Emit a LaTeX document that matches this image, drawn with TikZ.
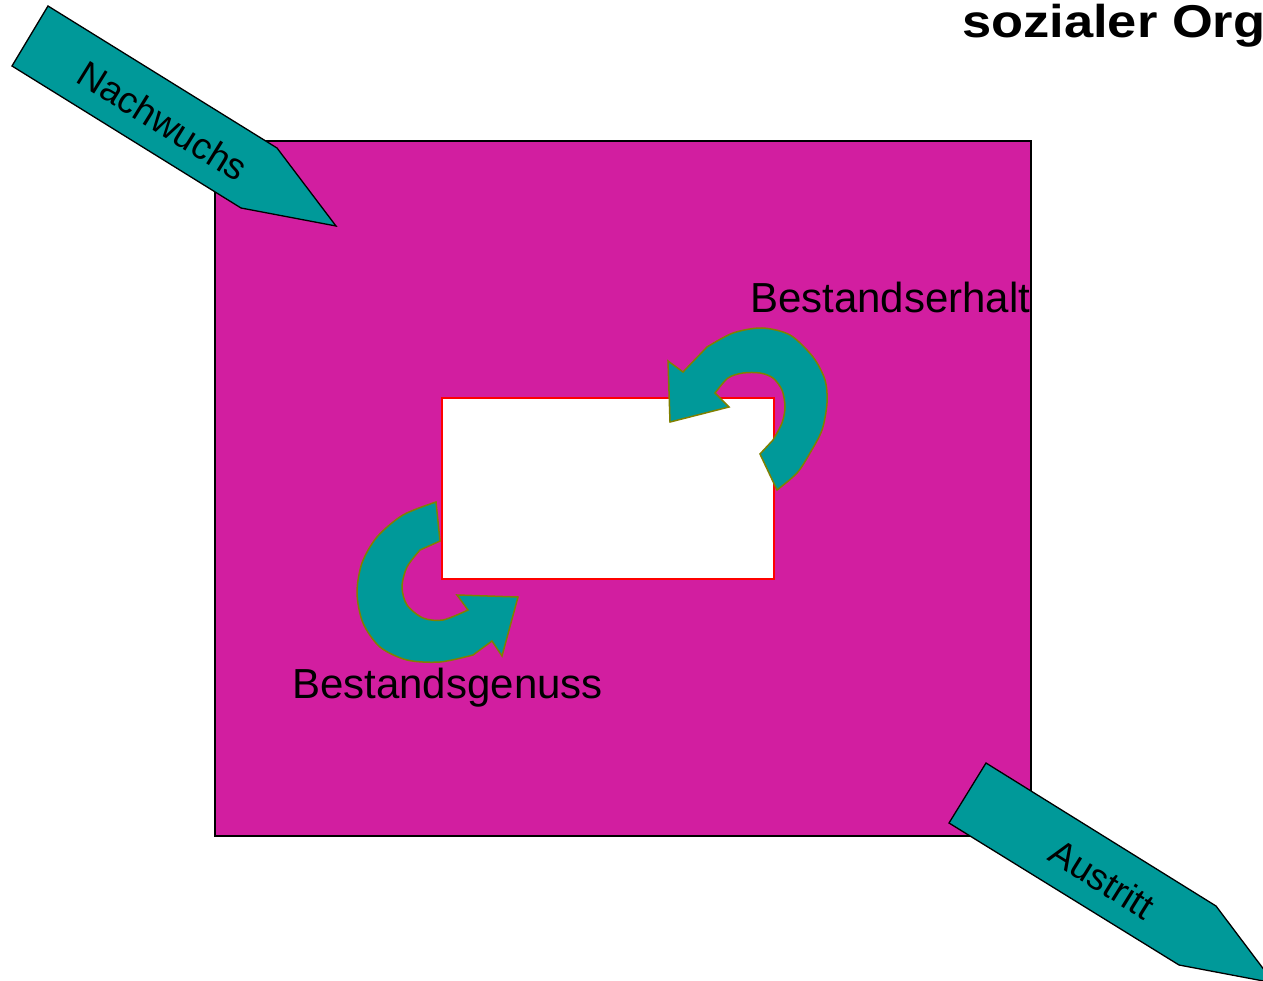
\documentclass[tikz,border=0pt]{standalone}
\usepackage{fontspec}
\setmainfont{Liberation Sans}
\usetikzlibrary{arrows}
\definecolor{orgmag}{RGB}{210,30,160}
\definecolor{orgteal}{RGB}{0,153,153}
\definecolor{orgolive}{RGB}{128,128,0}

\begin{document}
\begin{tikzpicture}[x=1pt,y=-1pt,
    pointer/.style={fill=orgteal,draw=black,line width=1.3pt},
    loopy/.style={fill=orgteal,draw=orgolive,line width=1.5pt},
    lbl/.style={font=\fontsize{42}{48}\selectfont,inner sep=0pt}]
  \clip (0,0) rectangle (1263,981);
  % organisation and its stock
  \draw[fill=orgmag,line width=1.2pt] (215,141) rectangle (1031,836);
  \draw[fill=white,draw=red,line width=1.5pt] (442,398) rectangle (774,579);
  % in and out
  \draw[pointer] (48,6) -- (12,66) -- (241,208) -- (336,226) -- (277,148) -- cycle;
  \draw[pointer] (986,763) -- (949,823) -- (1179,965) -- (1274,983) -- (1216,906) -- cycle;
  \node[lbl,font=\fontsize{37}{40}\selectfont,rotate=-31.8] (nach) at (163,121) {Nachwuchs};
  \node[lbl,font=\fontsize{37}{40}\selectfont,rotate=-31.8] (aus) at (1102,879) {Austritt};
  % loops
  \draw[loopy] (777,490) -- (760,454)
    -- plot[smooth] coordinates {(773,440) (782,423) (785,407) (782,390) (773,378)
        (760,373) (743,373) (728,378) (715,393)}
    -- (729,407) -- (670,422) -- (668,361) -- (683,372)
    -- plot[smooth] coordinates {(707,347) (733,333) (762,328) (790,335) (813,357)
        (825,380) (827,403) (822,430) (810,453) (797,473) (777,490)}
    -- cycle;
  \draw[loopy] (436,502) -- (440,541)
    -- plot[smooth] coordinates {(420,550) (407,567) (402,587) (407,605) (423,618)
        (443,620) (468,610)}
    -- (457,595) -- (518,597) -- (502,656) -- (492,641)
    -- plot[smooth] coordinates {(473,655) (440,662) (407,660) (380,647) (363,623)
        (357,593) (362,563) (377,537) (403,515) (436,502)}
    -- cycle;
  \node[lbl,anchor=base west] (erhalt) at (750,313) {Bestandserhalt};
  \node[lbl,anchor=base west] (genuss) at (292,698) {Bestandsgenuss};
  \node[lbl,font=\bfseries\fontsize{46}{52}\selectfont,anchor=base west] (titel) at (962,38)
    {\scalebox{1.14}[1]{sozialer Org}};
\end{tikzpicture}
\end{document}
